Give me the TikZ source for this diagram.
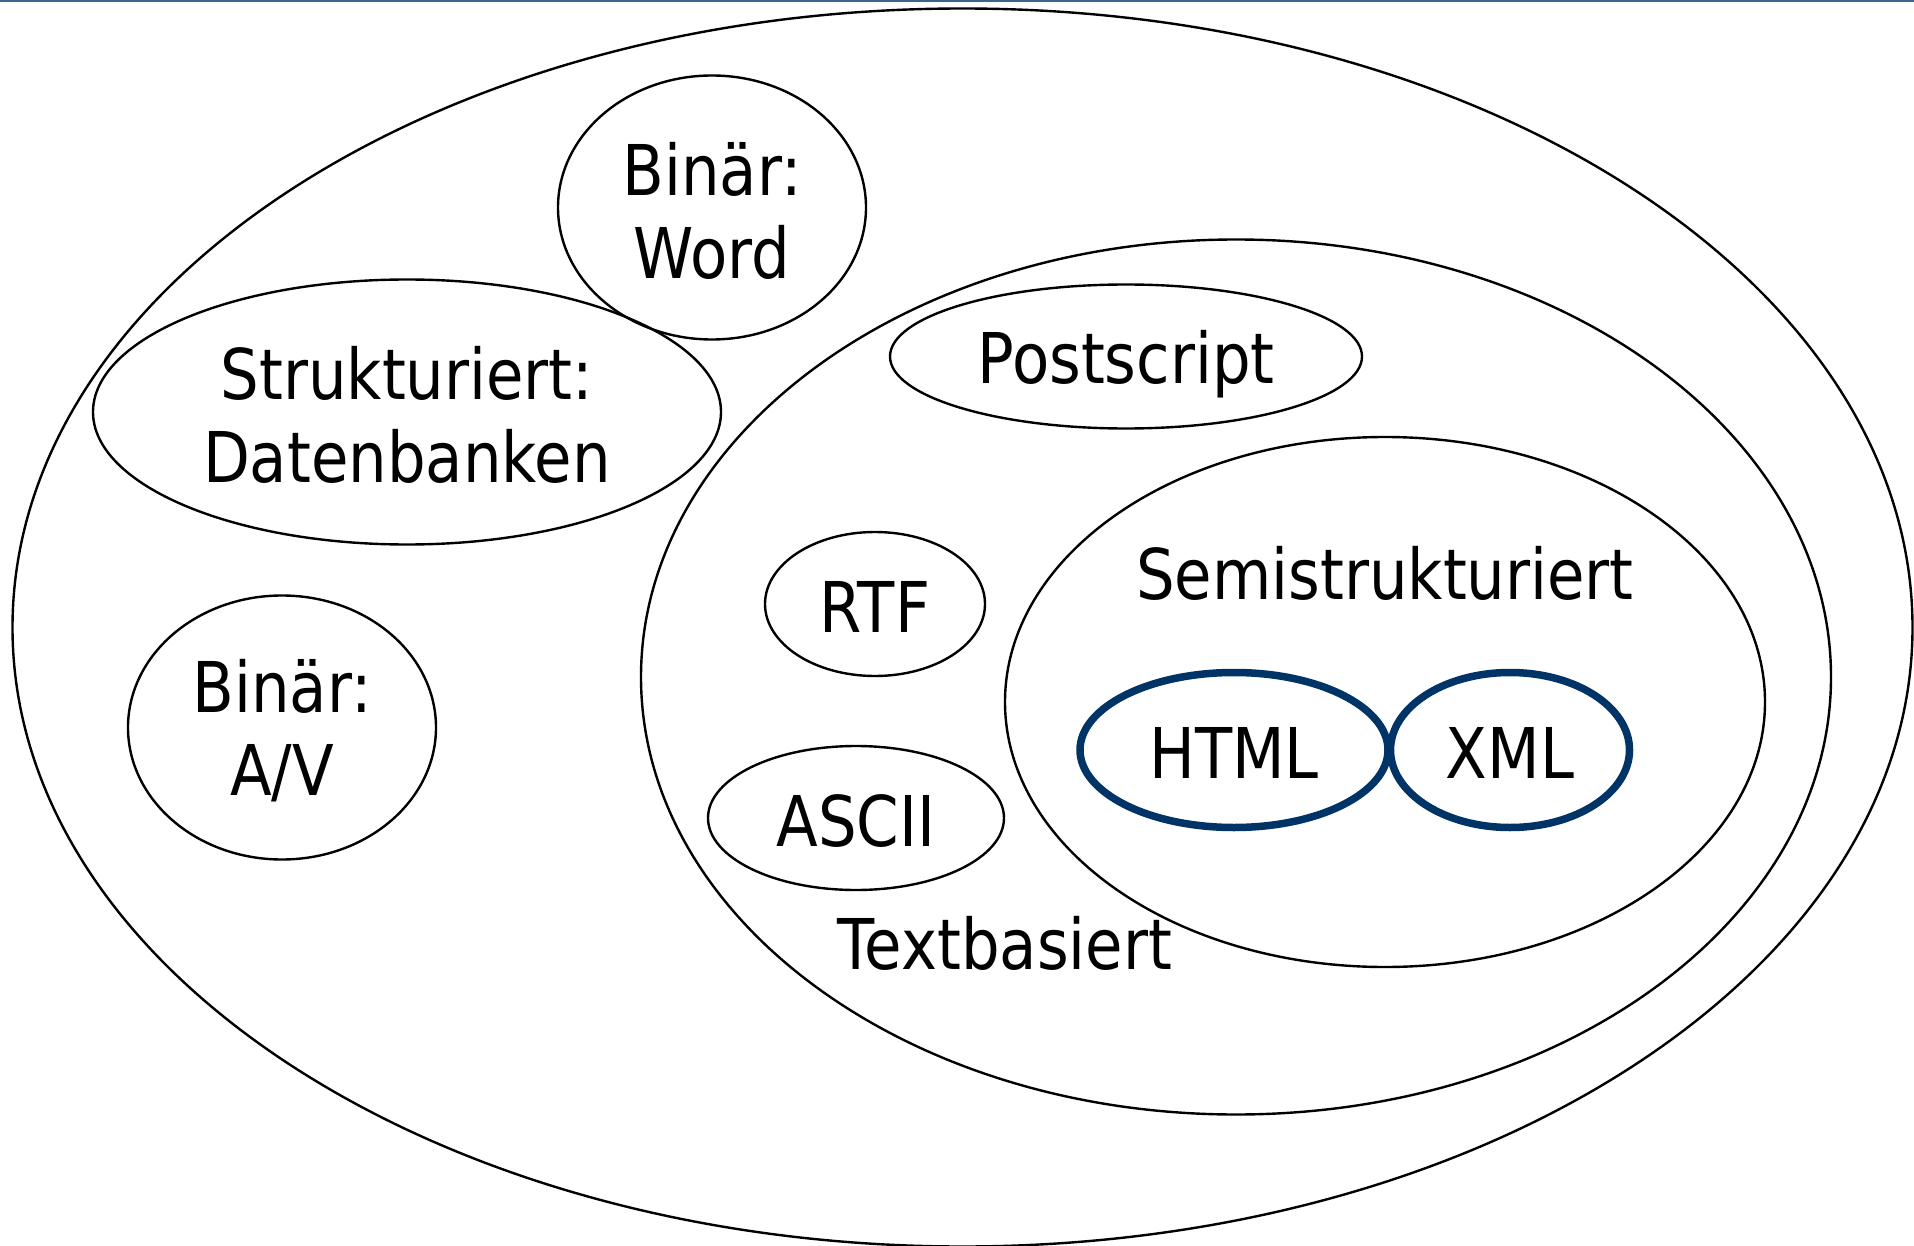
\documentclass[tikz,border=0pt]{standalone}
\usepackage{fontspec}
\setmainfont[FakeStretch=0.87]{DejaVu Sans}
\usetikzlibrary{shapes.geometric}
\definecolor{navy}{RGB}{0,51,102}
\definecolor{topblue}{RGB}{60,100,140}
\tikzset{
  ell/.style={ellipse, draw=black, line width=2.4pt, inner sep=0pt},
  bold ell/.style={ellipse, draw=navy, line width=7.5pt, inner sep=0pt},
  lbl/.style={inner sep=0pt, align=center, yshift=-3pt, font=\fontsize{70}{83}\selectfont},
}
\begin{document}
\begin{tikzpicture}[x=1pt,y=-1pt]
\useasboundingbox (0,0) rectangle (1914,1246);
\draw[topblue, line width=2.5pt] (0,1) -- (1914,1);
% ellipses
\node[ell, minimum width=1900pt, minimum height=1238pt] (outer) at (962.5,627.5) {};
\node[ell, minimum width=308pt, minimum height=264pt] (word) at (712,207.5) {};
\node[ell, minimum width=628pt, minimum height=265pt] (db) at (407,412) {};
\node[ell, minimum width=308pt, minimum height=264pt] (av) at (282,727.5) {};
\node[ell, minimum width=1190pt, minimum height=875pt] (text) at (1236,677) {};
\node[ell, minimum width=472pt, minimum height=144pt] (ps) at (1126,356.5) {};
\node[ell, minimum width=760pt, minimum height=530pt] (semi) at (1385,702) {};
\node[ell, minimum width=220pt, minimum height=144pt] (rtf) at (875,604) {};
\node[ell, minimum width=296pt, minimum height=144pt] (ascii) at (856,818) {};
\node[bold ell, minimum width=308pt, minimum height=155pt] (html) at (1234,750) {};
\node[bold ell, minimum width=239pt, minimum height=155pt] (xml) at (1510,750) {};
% labels
\node[lbl] (twordl) at (word.center) {Binär:\\Word};
\node[lbl] (tdb) at (db.center) {Strukturiert:\\Datenbanken};
\node[lbl] (tav) at (av.center) {Binär:\\A/V};
\node[lbl, yshift=-5pt] (tps) at (ps.center) {Postscript};
\node[lbl] (trtf) at (rtf.center) {RTF};
\node[lbl] (tascii) at (ascii.center) {ASCII};
\node[lbl] (tsemi) at (1385,570) {Semistrukturiert};
\node[lbl] (thtml) at (html.center) {HTML};
\node[lbl] (txml) at (xml.center) {XML};
\node[lbl, yshift=1pt] (ttext) at (1005,941) {Textbasiert};
\end{tikzpicture}
\end{document}
